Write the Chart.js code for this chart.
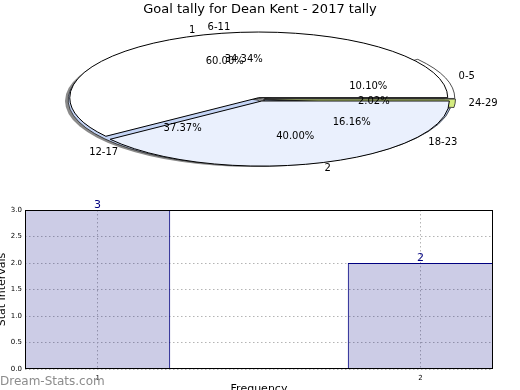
<!DOCTYPE html>
<html>
<head>
<meta charset="utf-8">
<script src="https://cdn.jsdelivr.net/npm/chart.js@4/dist/chart.umd.min.js"></script>
<style>
  html, body { margin: 0; padding: 0; background: #fff; }
  #wrap { position: relative; width: 520px; height: 390px; overflow: hidden; font-family: "DejaVu Sans", sans-serif; }
  canvas { position: absolute; left: 0; }
  #pieBack, #pieFront { top: 0; }
  #barChart { top: 190px; }
  #mark { position: absolute; left: 0; top: 374px; font-size: 12px; color: #8c8c8c; }
</style>
</head>
<body>
<div id="wrap">
  <canvas id="barChart" width="520" height="200"></canvas>
  <canvas id="pieBack" width="520" height="190"></canvas>
  <canvas id="pieFront" width="520" height="190"></canvas>
  <div id="mark">Dream-Stats.com</div>
</div>
<script>
// data
const tallyLabels = ["1", "2"];
const tallyValues = [3, 2];
const intervalLabels = ["0-5", "6-11", "12-17", "18-23", "24-29"];
const intervalValues = [10, 34, 37, 16, 2];
const freqValues = [1, 2];
const statValues = [3, 2];
const yTicks = [0, 0.5, 1, 1.5, 2, 2.5, 3];

Chart.defaults.font.family = "'DejaVu Sans', sans-serif";
Chart.defaults.color = "#000";

// tilted pie geometry (screen)
const CX = 260, CY = 99, RX = 190, RY = 66, K = RY / RX;

function squash(ctx, meta) {
    const el = meta.data[0];
    ctx.translate(CX, CY);
    ctx.scale(1, -K);
    ctx.translate(-el.x, -el.y);
}

const tiltPlugin = {
    id: "tilt",
    beforeDatasetsDraw(chart, args, opts) {
        const ctx = chart.ctx;
        ctx.save();
        if (opts.shadow) {
            ctx.beginPath();
            ctx.ellipse(CX - 5, CY + 2, RX, RY, 0, 0, Math.PI * 2);
            ctx.fillStyle = "#8a8a8a";
            ctx.fill();
        }
        squash(ctx, chart.getDatasetMeta(0));
    },
    afterDatasetsDraw(chart, args, opts) {
        const ctx = chart.ctx;
        ctx.restore();
        const meta = chart.getDatasetMeta(0);
        // outlines: build path squashed, stroke unsquashed
        ctx.save();
        squash(ctx, meta);
        ctx.beginPath();
        meta.data.forEach(arc => {
            const off = (arc.options.offset || 0) / 4;
            const mid = (arc.startAngle + arc.endAngle) / 2;
            const r = arc.outerRadius + off * (1 - Math.sin(Math.min(Math.PI, arc.circumference)));
            const x = arc.x + Math.cos(mid) * off;
            const y = arc.y + Math.sin(mid) * off;
            ctx.moveTo(x, y);
            ctx.arc(x, y, r, arc.startAngle, arc.endAngle);
            ctx.closePath();
        });
        ctx.restore();
        ctx.save();
        ctx.lineWidth = opts.lineWidth || 1;
        ctx.strokeStyle = opts.lineColor || "#000";
        ctx.lineJoin = "round";
        ctx.stroke();
        ctx.restore();
    },
    afterDraw(chart, args, opts) {
        if (!opts.labels) return;
        const ctx = chart.ctx;
        const charts = [Chart.getChart("pieBack"), chart];
        ctx.save();
        ctx.font = "10px 'DejaVu Sans'";
        ctx.fillStyle = "#000";
        ctx.textBaseline = "middle";
        charts.forEach(c => {
            const meta = c.getDatasetMeta(0);
            const labels = c.data.labels;
            const vals = c.data.datasets[0].data;
            const total = vals.reduce((a, b) => a + b, 0);
            meta.data.forEach((arc, i) => {
                const a = (arc.startAngle + arc.endAngle) / 2;
                const cos = Math.cos(a), sin = Math.sin(a);
                ctx.textAlign = cos >= 0 ? "left" : "right";
                ctx.fillText(labels[i], CX + 1.1 * RX * cos, CY - 1.1 * RY * sin);
                ctx.textAlign = "center";
                ctx.fillText((vals[i] / total * 100).toFixed(2) + "%", CX + 0.6 * RX * cos, CY - 0.6 * RY * sin);
            });
        });
        ctx.restore();
    }
};

const pieOptions = (radius, extra) => ({
    responsive: false,
    animation: false,
    events: [],
    rotation: 90,
    radius: radius,
    layout: { padding: 0 },
    plugins: Object.assign({ legend: { display: false }, tooltip: { enabled: false } }, extra)
});

// intervals pie (underneath)
new Chart(document.getElementById("pieBack"), {
    type: "pie",
    data: {
        labels: intervalLabels,
        datasets: [{
            data: intervalValues,
            backgroundColor: ["#ffffff", "#ffffff", "#c4d4f5", "#b8ccf2", "#d5ec80"],
            borderWidth: 0,
            offset: [20, 8, 16, 16, 16]
        }]
    },
    options: pieOptions(188, { tilt: { shadow: true, lineWidth: 0.8, lineColor: "#222" } }),
    plugins: [tiltPlugin]
});

// tally pie (on top)
new Chart(document.getElementById("pieFront"), {
    type: "pie",
    data: {
        labels: tallyLabels,
        datasets: [{
            data: tallyValues,
            backgroundColor: ["#ffffff", "#eaf0fd"],
            borderWidth: 0,
            offset: [16, 24]
        }]
    },
    options: pieOptions(185, {
        tilt: { labels: true, lineWidth: 1, lineColor: "#000" },
        title: {
            display: true,
            text: "Goal tally for Dean Kent - 2017 tally",
            font: { size: 13, weight: "normal" },
            color: "#000",
            padding: { top: 2, bottom: 4 }
        }
    }),
    plugins: [tiltPlugin]
});

// bar chart
const framePlugin = {
    id: "frame",
    afterDatasetsDraw(chart) {
        const { ctx, chartArea: a } = chart;
        ctx.save();
        ctx.strokeStyle = "#000";
        ctx.lineWidth = 1;
        ctx.strokeRect(Math.round(a.left) + 0.5, Math.round(a.top) + 0.5,
            Math.round(a.right - a.left) - 1, Math.round(a.bottom - a.top) - 1);
        // value labels
        ctx.font = "11px 'DejaVu Sans'";
        ctx.fillStyle = "#000080";
        ctx.textAlign = "center";
        ctx.textBaseline = "bottom";
        chart.getDatasetMeta(0).data.forEach((bar, i) => {
            ctx.fillText(String(statValues[i]), bar.x, bar.y + 1);
        });
        ctx.restore();
    }
};

const gridStyle = { color: "#b4b4b4", lineWidth: 1, drawTicks: false, offset: false };
const borderStyle = { display: false, dash: [1.5, 2.5] };

new Chart(document.getElementById("barChart"), {
    type: "bar",
    data: {
        datasets: [{
            data: freqValues.map((f, i) => ({ x: f, y: statValues[i] })),
            backgroundColor: "rgba(0,0,128,0.2)",
            borderColor: "#000080",
            borderWidth: 1,
            barPercentage: 0.45,
            categoryPercentage: 1
        }]
    },
    options: {
        responsive: false,
        animation: false,
        events: [],
        layout: { padding: { top: 20, right: 27, left: 0, bottom: 0 } },
        plugins: { legend: { display: false }, tooltip: { enabled: false } },
        scales: {
            x: {
                type: "linear",
                offset: false,
                min: 0.775,
                max: 2.225,
                afterBuildTicks: s => { s.ticks = freqValues.map(v => ({ value: v })); },
                afterFit: s => { s.height = 21; },
                grid: gridStyle,
                border: borderStyle,
                ticks: { font: { size: 7 }, padding: 5, callback: v => String(v) },
                title: { display: true, text: "Frequency", font: { size: 11 }, padding: { top: 0, bottom: -6 } }
            },
            y: {
                min: 0,
                max: 3,
                afterBuildTicks: s => { s.ticks = yTicks.map(v => ({ value: v })); },
                afterFit: s => { s.width = 25; },
                grid: gridStyle,
                border: borderStyle,
                ticks: { font: { size: 7 }, padding: 3, callback: v => v.toFixed(1) },
                title: { display: true, text: "Stat Intervals", font: { size: 11 }, padding: { top: -4, bottom: 0 } }
            }
        }
    },
    plugins: [framePlugin]
});
</script>
</body>
</html>
